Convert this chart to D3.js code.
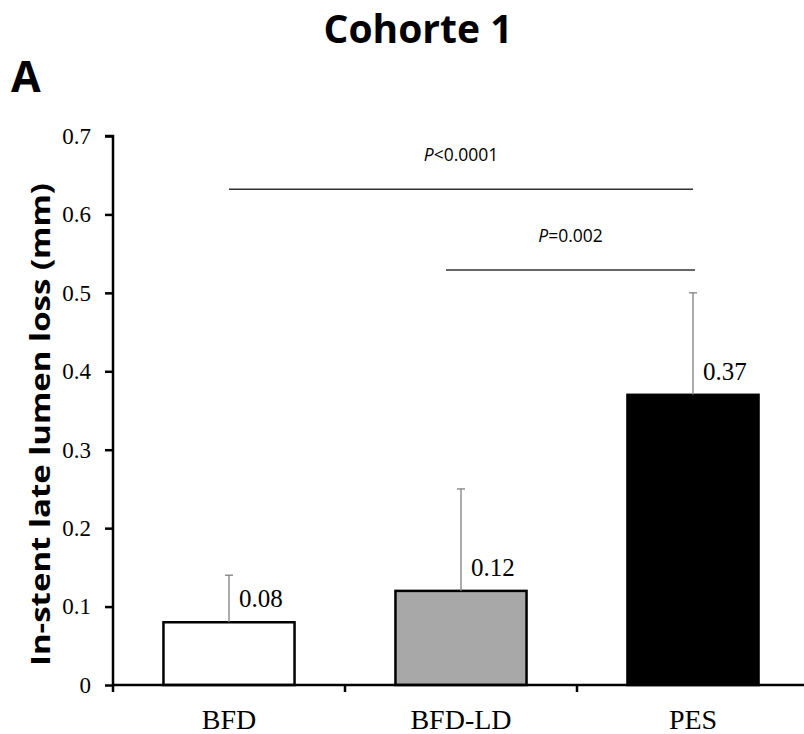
<!DOCTYPE html>
<html>
<head>
<meta charset="utf-8">
<script src="https://cdn.jsdelivr.net/npm/d3@7"></script>
<style>
  html, body { margin: 0; padding: 0; background: #fff; }
  svg { display: block; }
</style>
</head>
<body>
<svg id="chart" width="804" height="734"></svg>
<script>
// ---- data ----
const categories = ["BFD", "BFD-LD", "PES"];
const values = [0.08, 0.12, 0.37];
const errors = [0.06, 0.13, 0.13];   // upper SD
const valueLabels = ["0.08", "0.12", "0.37"];
const fills = ["#ffffff", "#a8a8a8", "#000000"];
const yTicks = [0, 0.1, 0.2, 0.3, 0.4, 0.5, 0.6, 0.7];
const comparisons = [
  { from: "BFD", to: "PES", level: 0.632, label: "<0.0001" },
  { from: "BFD-LD", to: "PES", level: 0.529, label: "=0.002" }
];

const svg = d3.select("#chart");
const x0 = 113, x1 = 809, yBottom = 685, yTop = 136;

const x = d3.scaleBand().domain(categories).range([x0, x1]).padding(0);
const y = d3.scaleLinear().domain([0, 0.7]).range([yBottom, yTop]);
const barW = x.bandwidth() * 0.565;
const cx = c => x(c) + x.bandwidth() / 2;

// Title
svg.append("text").attr("x", 418).attr("y", 43)
  .attr("text-anchor", "middle")
  .style("font-family", "'Open Sans', sans-serif").style("font-weight", "bold")
  .style("font-size", "39px").text("Cohorte 1");

svg.append("text").attr("x", 11).attr("y", 92)
  .style("font-family", "'Open Sans', sans-serif").style("font-weight", "bold")
  .style("font-size", "43px").text("A");

// Y axis label
svg.append("text")
  .attr("transform", `translate(50,${(183 + 666) / 2}) rotate(-90)`)
  .attr("text-anchor", "middle")
  .attr("textLength", 483).attr("lengthAdjust", "spacingAndGlyphs")
  .style("font-family", "'Open Sans', sans-serif").style("font-weight", "bold")
  .style("font-size", "26px")
  .text("In-stent late lumen loss (mm)");

// Bars
svg.append("g").selectAll("rect").data(categories).join("rect")
  .attr("x", c => cx(c) - barW / 2)
  .attr("y", (c, i) => y(values[i]))
  .attr("width", barW)
  .attr("height", (c, i) => y(0) - y(values[i]))
  .attr("fill", (c, i) => fills[i])
  .attr("stroke", "#000").attr("stroke-width", 2.5);

// Error bars
const eg = svg.append("g").attr("stroke", "#808080").attr("stroke-width", 1.3);
categories.forEach((c, i) => {
  eg.append("line").attr("x1", cx(c)).attr("x2", cx(c))
    .attr("y1", y(values[i])).attr("y2", y(values[i] + errors[i]));
  eg.append("line").attr("x1", cx(c) - 4).attr("x2", cx(c) + 4)
    .attr("y1", y(values[i] + errors[i])).attr("y2", y(values[i] + errors[i]));
});

// Value labels
svg.append("g").selectAll("text").data(categories).join("text")
  .attr("x", c => cx(c) + 10)
  .attr("y", (c, i) => y(values[i]) - 15)
  .style("font-family", "'Liberation Serif', 'Times New Roman', serif")
  .style("font-size", "25px")
  .text((c, i) => valueLabels[i]);

// Y axis
const yAxis = d3.axisLeft(y).tickValues(yTicks).tickSize(8).tickPadding(14)
  .tickFormat(d => d === 0 ? "0" : d3.format(".1f")(d));
const ya = svg.append("g").attr("transform", `translate(${x0},0)`).call(yAxis);
ya.select(".domain").attr("stroke", "#000").attr("stroke-width", 2.5)
  .attr("d", `M-8,${yTop}H0V${yBottom + 7}`);
ya.selectAll(".tick line").attr("stroke", "#000").attr("stroke-width", 2.5);
ya.selectAll(".tick text")
  .style("font-family", "'Liberation Serif', 'Times New Roman', serif")
  .style("font-size", "23px").attr("fill", "#000");

// X axis
const xa = svg.append("g");
xa.append("line").attr("x1", x0).attr("x2", x1).attr("y1", yBottom).attr("y2", yBottom)
  .attr("stroke", "#000").attr("stroke-width", 2.5);
categories.slice(1).forEach(c => {
  xa.append("line").attr("x1", x(c)).attr("x2", x(c))
    .attr("y1", yBottom).attr("y2", yBottom + 7)
    .attr("stroke", "#000").attr("stroke-width", 2.5);
});
xa.selectAll("text.cat").data(categories).join("text").attr("class", "cat")
  .attr("x", c => cx(c)).attr("y", 729)
  .attr("text-anchor", "middle")
  .style("font-family", "'Liberation Serif', 'Times New Roman', serif")
  .style("font-size", "28px").text(c => c);

// Significance lines
comparisons.forEach((d, i) => {
  const xs = i === 0 ? cx(d.from) : cx(d.from) - 15;
  const xe = cx(d.to) + (i === 0 ? 0 : 2);
  svg.append("line").attr("x1", xs).attr("x2", xe)
    .attr("y1", y(d.level)).attr("y2", y(d.level))
    .attr("stroke", "#333").attr("stroke-width", 1.5);
  const t = svg.append("text")
    .attr("x", (xs + xe) / 2).attr("y", y(d.level) - 28)
    .attr("text-anchor", "middle")
    .style("font-family", "'Open Sans', sans-serif").style("font-size", "17.5px");
  t.append("tspan").style("font-style", "italic").text("P");
  t.append("tspan").text(d.label);
});
</script>
</body>
</html>
